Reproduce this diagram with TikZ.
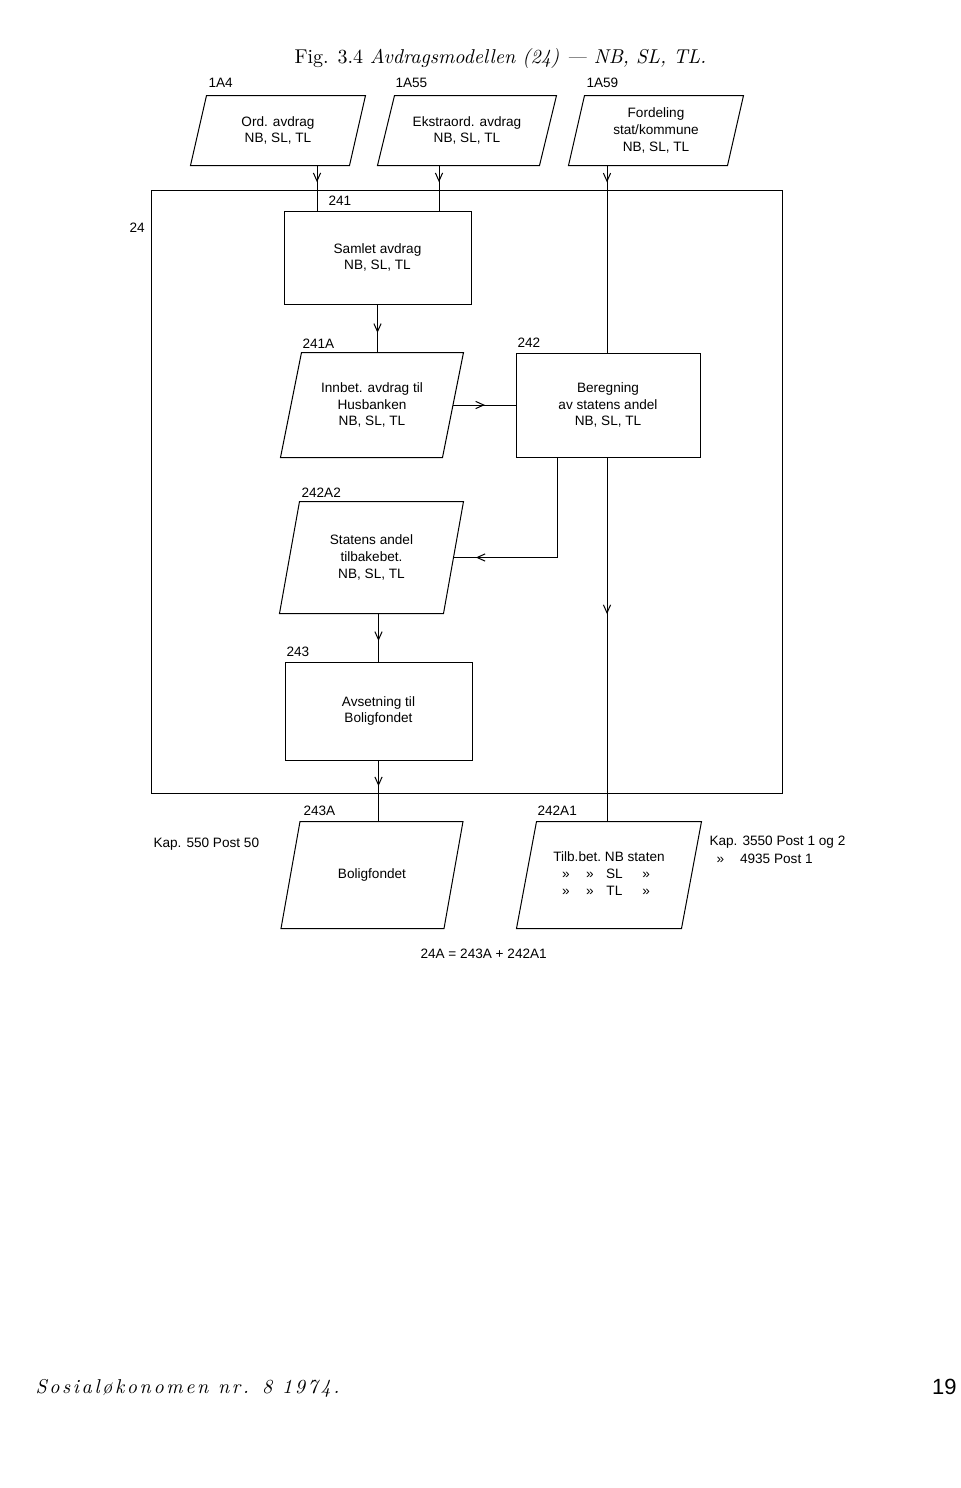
\documentclass[tikz,border=0pt]{standalone}
\usepackage{fontspec}
\newfontfamily\sansf{Liberation Sans}
\newfontfamily\spacedf{Latin Modern Roman}[LetterSpace=13]
\usetikzlibrary{arrows.meta,decorations.markings}

\tikzset{
  box/.style={draw, rectangle, inner sep=0pt, align=center},
  % parallelogram: #1 = half of the slant
  io/.style={rectangle, inner sep=0pt, align=center,
    append after command={\pgfextra{\draw ([xshift=#1]\tikzlastnode.north west)
      -- ([xshift=#1]\tikzlastnode.north east) -- ([xshift=-#1]\tikzlastnode.south east)
      -- ([xshift=-#1]\tikzlastnode.south west) -- cycle;}}},
  num/.style={anchor=base west, inner sep=0pt},
  flow/.style={postaction={decorate}, decoration={markings,
    mark=at position #1 with {\arrow{Straight Barb[length=4pt,width=3.6pt]}}}},
}

\begin{document}
\begin{tikzpicture}[x=0.5pt, y=-0.5pt, line width=0.5pt,
  every node/.style={font=\sansf\fontsize{6.8}{8.4}\selectfont}]
\useasboundingbox (0,0) rectangle (960,1488);

% Title
\node[num, font=\normalfont\fontsize{10}{12}\selectfont] (title) at (294,63)
  {Fig. 3.4 \textit{Avdragsmodellen (24) --- NB, SL, TL.}};

% Inputs
\node[io=4pt, minimum width=79pt, minimum height=34.5pt] (ord) at (278,130.5) {Ord. avdrag\\NB, SL, TL};
\node[io=4.25pt, minimum width=80.5pt, minimum height=34.5pt] (ekstra) at (467,130.5) {Ekstraord. avdrag\\NB, SL, TL};
\node[io=4pt, minimum width=79pt, minimum height=34.5pt] (ford) at (656,130.5) {Fordeling\\stat/kommune\\NB, SL, TL};
\node[num] (l1A4) at (208,87) {1A4};
\node[num] (l1A55) at (395,87) {1A55};
\node[num] (l1A59) at (586,87) {1A59};

% Area 24
\node[box, minimum width=315.5pt, minimum height=301.5pt] (b24) at (466.5,491.5) {};
\node[num] (l24) at (129,232) {24};

\node[box, minimum width=93.5pt, minimum height=46.5pt] (b241) at (377.5,257.5) {Samlet avdrag\\NB, SL, TL};
\node[io=5.25pt, minimum width=80.5pt, minimum height=52pt] (p241A) at (372,405) {Innbet. avdrag til\\Husbanken\\NB, SL, TL};
\node[box, minimum width=92pt, minimum height=52pt] (b242) at (608,405) {Beregning\\av statens andel\\NB, SL, TL};
\node[io=5pt, minimum width=81.5pt, minimum height=55.5pt] (p242A2) at (371.5,557.5) {Statens andel\\tilbakebet.\\NB, SL, TL};
\node[box, minimum width=93.5pt, minimum height=49pt] (b243) at (378.5,711) {Avsetning til\\Boligfondet};
\node[num] (l241) at (328,205) {241};
\node[num] (l241A) at (302,348) {241A};
\node[num] (l242) at (517,347) {242};
\node[num] (l242A2) at (301,497) {242A2};
\node[num] (l243) at (286,656) {243};

% Outputs
\node[io=4.75pt, minimum width=81pt, minimum height=53pt] (p243A) at (372,875) {Boligfondet};
\node[io=5pt, minimum width=82pt, minimum height=53pt] (p242A1) at (609,875)
  {\begin{tabular}{@{}c@{}c@{\ }c@{\ }c@{}}Tilb.&bet.&NB&staten\\»&»&SL&»\\»&»&TL&»\end{tabular}};
\node[num] (l243A) at (303,815) {243A};
\node[num] (l242A1) at (537,815) {242A1};
\node[num] (kap550) at (153,847) {Kap. 550 Post 50};
\node[num] (kap3550) at (709,845) {Kap. 3550 Post 1 og 2};
\node[num] (kap4935) at (716,863) {»\hspace{8pt}4935 Post 1};
\node[num] (sum) at (420,958) {24A = 243A + 242A1};

% Arrows
\coordinate (x317) at (317,0);
\coordinate (x439) at (439,0);
\coordinate (x557) at (557,0);
\coordinate (x607) at (607,0);
\draw[flow=0.37] (ord.south -| x317) -- (b241.north -| x317);
\draw[flow=0.37] (ekstra.south -| x439) -- (b241.north -| x439);
\draw[flow=0.09] (ford.south -| x607) -- (b242.north -| x607);
\draw[flow=0.59] (b241.south) -- (b241.south |- p241A.north);
\draw[flow=0.51] (p241A.east) -- (b242.west);
\draw[flow=0.89] (b242.south -| x557) |- (p242A2.east);
\draw[flow=0.57] (p242A2.south -| b243.north) -- (b243.north);
\draw[flow=0.43] (b242.south -| x607) -- (p242A1.north -| x607);
\draw[flow=0.42] (b243.south) -- (b243.south |- p243A.north);

% Footer
\node[num, font=\spacedf\itshape\fontsize{10}{12}\selectfont] (foot) at (35,1393)
  {Sosialøkonomen nr. 8 1974.};
\node[anchor=base east, inner sep=0pt, font=\sansf\fontsize{11}{13}\selectfont] (page) at (957,1394) {19};
\end{tikzpicture}
\end{document}
